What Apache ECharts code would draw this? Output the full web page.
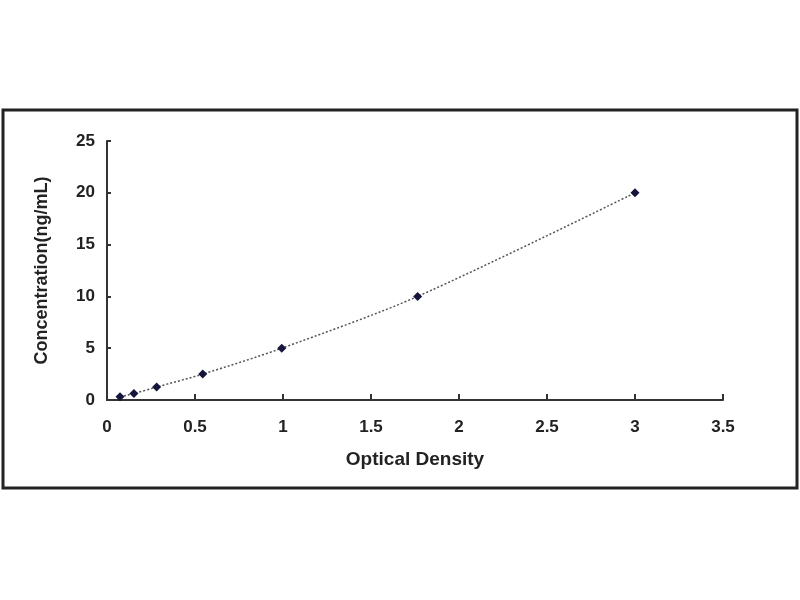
<!DOCTYPE html>
<html>
<head>
<meta charset="utf-8">
<script src="https://cdn.jsdelivr.net/npm/echarts@6/dist/echarts.min.js"></script>
<style>
    html, body {margin: 0; padding: 0; background: #fff;}
    #chart {width: 800px; height: 600px;}
</style>
</head>
<body>
<div id="chart"></div>
<script>
    // 标准曲线数据
    const odValues = [0.074, 0.153, 0.282, 0.544, 0.993, 1.765, 3.0];
    const concValues = [0.312, 0.625, 1.25, 2.5, 5, 10, 20];
    const xTicks = [0, 0.5, 1, 1.5, 2, 2.5, 3, 3.5];
    const yTicks = [0, 5, 10, 15, 20, 25];

    const chart = echarts.init(document.getElementById('chart'));
    const points = odValues.map((v, i) => [v, concValues[i]]);
    const labelFont = {color: '#222', fontSize: 17, fontWeight: 'bold', fontFamily: 'Liberation Sans, Arial'};

    chart.setOption({
        animation: false,
        backgroundColor: '#fff',
        graphic: [{ // 外框
            type: 'rect',
            shape: {x: 3, y: 110, width: 794, height: 378},
            style: {fill: 'none', stroke: '#222', lineWidth: 3}
        }],
        grid: {left: 107, top: 141, width: 616, height: 259},
        xAxis: {
            type: 'value',
            min: xTicks[0],
            max: xTicks[xTicks.length - 1],
            interval: 0.5,
            name: 'Optical Density',
            nameLocation: 'middle',
            nameGap: 50,
            nameTextStyle: Object.assign({}, labelFont, {fontSize: 19}),
            axisLine: {lineStyle: {color: '#333', width: 2}},
            axisTick: {inside: true, length: 6, lineStyle: {color: '#333', width: 2}},
            axisLabel: Object.assign({margin: 19}, labelFont),
            splitLine: {show: false}
        },
        yAxis: {
            type: 'value',
            min: yTicks[0],
            max: yTicks[yTicks.length - 1],
            interval: 5,
            name: 'Concentration(ng/mL)',
            nameLocation: 'middle',
            nameGap: 56,
            nameTextStyle: Object.assign({}, labelFont, {fontSize: 18}),
            axisLine: {lineStyle: {color: '#333', width: 2}},
            axisTick: {inside: true, length: 4, lineStyle: {color: '#333', width: 2}},
            axisLabel: Object.assign({margin: 12}, labelFont),
            splitLine: {show: false}
        },
        series: [{
            type: 'line',
            data: points,
            smooth: 0.3,
            symbol: 'diamond',
            symbolSize: 9,
            itemStyle: {color: '#14143c'},
            lineStyle: {color: '#555', width: 1.5, type: [2, 2]}
        }]
    });
</script>
</body>
</html>
